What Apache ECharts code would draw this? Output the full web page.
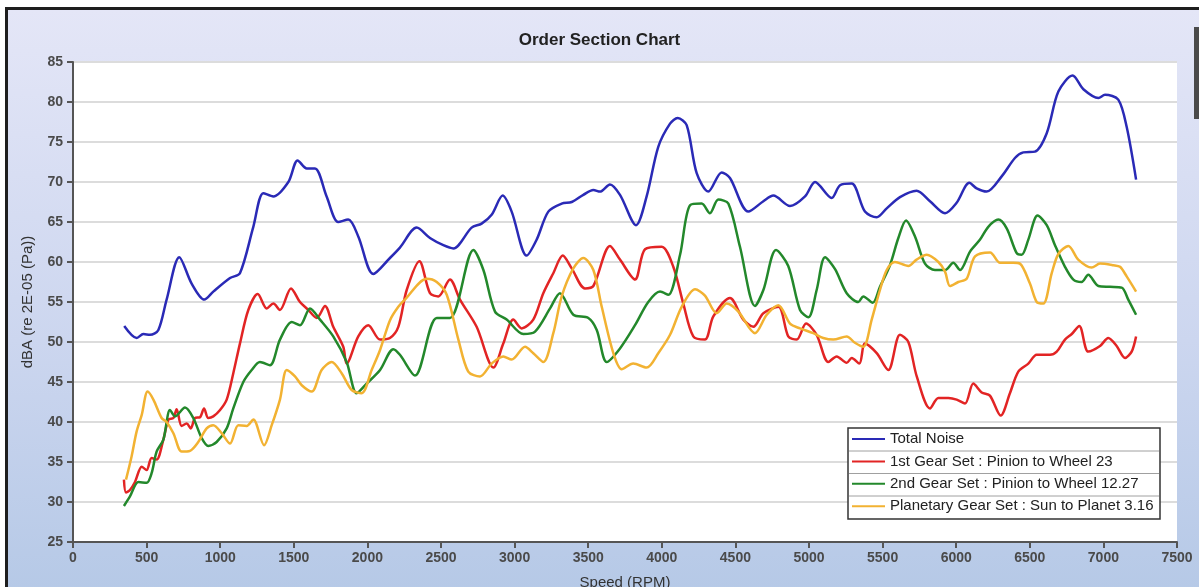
<!DOCTYPE html>
<html>
<head>
<meta charset="utf-8">
<title>Order Section Chart</title>
<script src="https://cdn.jsdelivr.net/npm/echarts@6/dist/echarts.min.js"></script>
<style>
  html, body { margin: 0; padding: 0; width: 1199px; height: 587px; overflow: hidden; background: #fff; }
  #frame {
    position: absolute; left: 5px; top: 7px; width: 1210px; height: 600px;
    border: 3px solid #1e1e1e;
    background: linear-gradient(#e4e6f7, #ccd6ef 55%, #b4c8e6);
  }
  #chart { position: absolute; left: 0; top: 0; width: 1199px; height: 587px; }
</style>
</head>
<body>
<div id="frame"></div>
<div id="chart"></div>
<script>
// [speed (RPM), dBA]
const totalNoise = [
  [348,52.0],[433,50.5],[478,51.0],[523,50.9],[580,51.5],[636,55.3],[722,60.6],[806,57.3],[892,55.3],[953,56.3],
  [1067,58.0],[1134,58.6],[1225,64.4],[1293,68.6],[1361,68.2],[1463,70.0],[1526,72.7],[1588,71.7],[1644,71.7],[1723,68.2],
  [1802,65.0],[1870,65.3],[1938,63.2],[2040,58.5],[2153,60.5],[2221,61.8],[2335,64.3],[2425,63.0],[2516,62.1],[2584,61.7],
  [2708,64.3],[2776,64.8],[2844,65.9],[2919,68.3],[2980,66.3],[3082,60.8],[3150,62.8],[3229,66.3],[3320,67.3],[3388,67.5],
  [3467,68.4],[3535,69.0],[3580,68.8],[3648,69.7],[3716,68.4],[3825,64.6],[3897,68.2],[3976,74.4],[4056,77.3],[4108,78.0],
  [4169,77.1],[4237,71.1],[4316,68.8],[4407,71.2],[4463,70.5],[4588,66.3],[4690,67.6],[4758,68.3],[4871,67.0],[4973,68.2],
  [5041,70.0],[5154,68.0],[5211,69.6],[5290,69.8],[5380,66.3],[5460,65.6],[5528,66.7],[5618,68.1],[5731,68.9],[5822,67.6],
  [5924,66.1],[6003,67.4],[6089,69.9],[6139,69.2],[6207,68.8],[6309,70.7],[6399,73.0],[6456,73.7],[6535,73.8],[6615,76.1],
  [6694,81.3],[6791,83.3],[6864,81.6],[6966,80.5],[7011,80.9],[7101,80.3],[7158,76.9],[7222,70.3]
];
const firstGear = [
  [346,32.8],[360,31.2],[387,31.5],[421,32.5],[467,34.4],[500,34.0],[534,35.5],[568,35.3],[614,37.8],[648,40.3],
  [682,40.5],[704,41.6],[738,39.5],[772,39.8],[800,39.2],[829,40.5],[863,40.6],[890,41.7],[919,40.5],[953,40.7],
  [999,41.5],[1044,42.8],[1089,46.1],[1134,49.8],[1191,54.0],[1255,56.0],[1316,54.2],[1361,54.8],[1406,54.0],[1481,56.7],
  [1542,55.0],[1599,54.0],[1656,53.0],[1712,54.5],[1768,51.9],[1836,49.4],[1859,47.3],[1938,50.7],[2006,52.1],[2086,50.3],
  [2153,50.5],[2210,51.9],[2267,56.5],[2353,60.1],[2425,56.1],[2482,55.7],[2561,57.8],[2629,55.3],[2742,51.9],[2856,46.8],
  [2923,49.8],[2991,52.8],[3048,51.7],[3127,52.8],[3195,56.1],[3263,58.6],[3327,60.8],[3388,59.2],[3478,56.7],[3535,57.0],
  [3648,62.0],[3716,60.3],[3818,57.8],[3886,61.6],[3999,61.9],[4078,59.4],[4146,54.8],[4214,50.7],[4293,50.3],[4350,53.2],
  [4463,55.5],[4554,52.8],[4622,51.9],[4690,53.6],[4792,54.4],[4859,50.7],[4916,50.3],[4980,52.3],[5052,50.9],[5131,47.5],
  [5188,48.2],[5256,47.4],[5290,48.0],[5342,47.3],[5380,49.8],[5460,48.6],[5539,46.5],[5618,50.9],[5675,50.0],[5732,45.7],
  [5822,41.7],[5879,43.0],[5947,43.0],[6003,42.8],[6060,42.3],[6116,44.8],[6173,43.7],[6229,43.3],[6302,40.8],[6365,43.6],
  [6422,46.3],[6490,47.3],[6547,48.4],[6637,48.4],[6683,48.8],[6739,50.3],[6785,51.0],[6836,52.0],[6897,48.8],[6977,49.5],
  [7033,50.5],[7090,49.5],[7147,48.0],[7192,48.8],[7222,50.7]
];
const secondGear = [
  [346,29.5],[387,30.7],[444,32.5],[500,32.4],[534,33.6],[568,36.3],[614,37.8],[659,41.5],[693,40.7],[761,41.8],
  [817,40.5],[874,38.0],[919,37.0],[976,37.5],[1044,39.2],[1089,41.7],[1157,45.0],[1214,46.5],[1270,47.5],[1338,47.1],
  [1406,50.3],[1486,52.5],[1542,52.1],[1610,54.2],[1678,52.8],[1768,50.7],[1859,47.5],[1927,43.6],[1995,44.8],[2086,46.5],
  [2176,49.1],[2221,48.4],[2323,45.8],[2471,53.0],[2561,53.0],[2720,61.5],[2788,59.0],[2867,53.8],[2946,52.8],[3059,51.0],
  [3139,51.3],[3241,54.2],[3308,56.1],[3399,53.4],[3501,53.0],[3558,51.5],[3626,47.5],[3716,49.2],[3818,52.1],[3908,55.0],
  [3988,56.3],[4044,55.9],[4124,60.9],[4192,67.1],[4271,67.3],[4327,66.1],[4384,67.8],[4452,67.3],[4531,61.9],[4633,54.5],
  [4690,56.5],[4776,61.5],[4859,59.5],[4939,54.0],[4996,53.1],[5052,56.5],[5109,60.6],[5177,59.1],[5256,56.1],[5335,55.0],
  [5369,55.7],[5433,54.9],[5482,56.9],[5550,59.6],[5607,63.0],[5659,65.2],[5720,63.2],[5788,59.8],[5856,59.0],[5924,59.0],
  [5980,59.9],[6026,59.0],[6094,61.3],[6162,62.8],[6218,64.4],[6286,65.3],[6343,64.2],[6411,61.1],[6445,60.9],[6490,62.8],
  [6553,65.8],[6615,64.6],[6671,62.1],[6739,59.4],[6796,57.8],[6852,57.5],[6897,58.4],[6966,57.0],[7045,56.9],[7124,56.8],
  [7169,55.3],[7222,53.4]
];
const planetaryGear = [
  [360,32.8],[398,35.7],[432,38.8],[467,40.9],[507,43.8],[546,42.8],[602,40.5],[636,40.0],[682,38.6],[738,36.3],
  [795,36.4],[851,37.5],[908,39.2],[953,39.6],[1010,38.6],[1067,37.3],[1123,39.6],[1180,39.5],[1225,40.3],[1298,37.1],
  [1350,39.6],[1406,42.8],[1452,46.5],[1508,45.7],[1554,44.6],[1622,43.8],[1689,46.5],[1757,47.5],[1825,46.1],[1893,44.0],
  [1961,43.6],[2029,46.5],[2086,49.0],[2153,52.7],[2210,54.4],[2255,55.3],[2403,57.9],[2471,57.5],[2539,55.9],[2618,50.3],
  [2685,46.3],[2765,45.7],[2844,47.3],[2923,48.2],[2980,47.8],[3071,49.4],[3127,48.6],[3195,47.5],[3263,51.1],[3320,55.7],
  [3399,59.2],[3467,60.5],[3535,59.0],[3592,54.4],[3671,48.6],[3727,46.6],[3806,47.3],[3897,46.8],[3976,48.6],[4056,50.9],
  [4135,54.4],[4226,56.6],[4293,55.8],[4373,53.6],[4441,54.8],[4520,53.8],[4633,51.1],[4713,53.4],[4792,54.6],[4871,52.3],
  [4939,51.7],[5029,51.1],[5097,50.5],[5165,50.3],[5256,50.7],[5312,49.9],[5369,49.4],[5426,52.8],[5482,56.5],[5528,59.0],
  [5584,60.0],[5675,59.5],[5731,60.3],[5800,60.9],[5879,60.0],[5924,58.8],[5958,57.0],[6014,57.5],[6071,57.9],[6128,60.7],
  [6230,61.2],[6298,59.9],[6388,59.9],[6433,59.8],[6501,57.3],[6547,55.0],[6592,54.8],[6649,58.6],[6694,61.0],[6762,62.0],
  [6829,60.3],[6920,59.3],[6977,59.8],[7067,59.6],[7113,59.4],[7158,58.2],[7222,56.3]
];

const seriesNames = [
  'Total Noise',
  '1st Gear Set : Pinion to Wheel 23',
  '2nd Gear Set : Pinion to Wheel 12.27',
  'Planetary Gear Set : Sun to Planet 3.16'
];
const seriesColors = ['#2a2ab6', '#e22424', '#23882b', '#f2b232'];
const seriesData = [totalNoise, firstGear, secondGear, planetaryGear];

const chart = echarts.init(document.getElementById('chart'));
const font = 'Liberation Sans, Arial, sans-serif';

const option = {
  animation: false,
  textStyle: { fontFamily: font },
  title: {
    text: 'Order Section Chart',
    left: 'center',
    top: 27,
    textStyle: { fontSize: 17, fontWeight: 'bold', color: '#222', fontFamily: font }
  },
  grid: {
    left: 73, right: 22, top: 62, bottom: 45,
    outerBoundsMode: 'none',
    show: true, backgroundColor: '#fff', borderWidth: 0
  },
  legend: {
    orient: 'vertical',
    left: 851,
    top: 431.5,
    padding: 0,
    itemWidth: 33,
    itemHeight: 15,
    itemGap: 7.4,
    z: 10,
    itemStyle: { opacity: 0 },
    data: seriesNames,
    textStyle: { fontSize: 15, color: '#222', lineHeight: 15, fontFamily: font }
  },
  xAxis: {
    type: 'value',
    min: 0, max: 7500, interval: 500,
    name: 'Speed (RPM)',
    nameLocation: 'middle',
    nameGap: 33,
    nameTextStyle: { fontSize: 15, color: '#333' },
    axisLine: { lineStyle: { color: '#555', width: 2 } },
    axisTick: { show: true, length: 6, lineStyle: { color: '#555', width: 2 } },
    axisLabel: { fontSize: 14, fontWeight: 'bold', color: '#4a4a4a', margin: 9, formatter: v => String(v) },
    splitLine: { show: false }
  },
  yAxis: {
    type: 'value',
    min: 25, max: 85, interval: 5,
    name: 'dBA (re 2E-05 (Pa))',
    nameLocation: 'middle',
    nameGap: 38,
    nameTextStyle: { fontSize: 15, color: '#333' },
    axisLine: { show: true, lineStyle: { color: '#555', width: 2 } },
    axisTick: { show: true, length: 6, lineStyle: { color: '#555', width: 2 } },
    axisLabel: { fontSize: 14, fontWeight: 'bold', color: '#4a4a4a', margin: 10 },
    splitLine: { lineStyle: { color: '#dcdcdc', width: 2 } }
  },
  graphic: [
    { type: 'rect', z: 5, shape: { x: 848, y: 428, width: 312, height: 91 },
      style: { fill: '#fff', stroke: '#333', lineWidth: 1.5 } },
    { type: 'line', z: 6, shape: { x1: 849, y1: 451, x2: 1159, y2: 451 }, style: { stroke: '#a0a0a0', lineWidth: 1 } },
    { type: 'line', z: 6, shape: { x1: 849, y1: 473.5, x2: 1159, y2: 473.5 }, style: { stroke: '#a0a0a0', lineWidth: 1 } },
    { type: 'line', z: 6, shape: { x1: 849, y1: 496, x2: 1159, y2: 496 }, style: { stroke: '#a0a0a0', lineWidth: 1 } },
    // scrollbar thumb at the right edge
    { type: 'rect', z: 5, shape: { x: 1194, y: 27, width: 5, height: 92 }, style: { fill: '#4a4a4a' } }
  ],
  series: seriesNames.map((name, i) => ({
    name: name,
    type: 'line',
    data: seriesData[i],
    symbol: 'none',
    smooth: 0.3,
    color: seriesColors[i],
    lineStyle: { width: 2.5, color: seriesColors[i] }
  }))
};

chart.setOption(option);
</script>
</body>
</html>
